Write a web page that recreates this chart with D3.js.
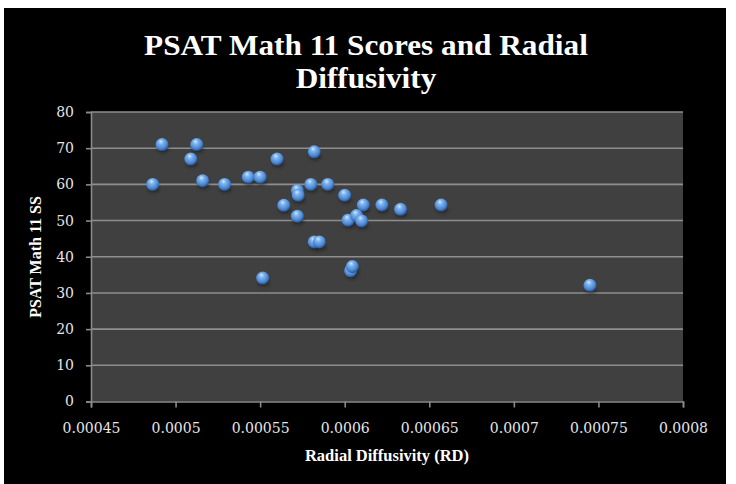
<!DOCTYPE html>
<html>
<head>
<meta charset="utf-8">
<script src="https://cdn.jsdelivr.net/npm/d3@7"></script>
<style>
  html, body { margin: 0; padding: 0; background: #fff; }
  svg { display: block; }
</style>
</head>
<body>
<svg width="736" height="484"></svg>
<script>
  // 데이터: Radial Diffusivity (x) 와 PSAT Math 11 점수 (y)
  const rdValues = [
    0.0004865, 0.000492, 0.0005125, 0.000509, 0.000516, 0.000529,
    0.000543, 0.00055, 0.00056, 0.000582, 0.000572, 0.0005725,
    0.00058, 0.00059, 0.000564, 0.000572, 0.0005515, 0.000582,
    0.000585, 0.0006, 0.000611, 0.000602, 0.000607, 0.00061,
    0.0006035, 0.0006045, 0.000622, 0.000633, 0.000657, 0.000745
  ];
  const psatScores = [
    60, 71, 71, 67, 61, 60,
    62, 62, 67, 69, 58.3, 57,
    60, 60, 54.2, 51.2, 34.1, 44.1,
    44.1, 57, 54.3, 50.1, 51.4, 49.9,
    36.1, 37.3, 54.3, 53.1, 54.3, 32.1
  ];
  const xTicks = [0.00045, 0.0005, 0.00055, 0.0006, 0.00065, 0.0007, 0.00075, 0.0008];
  const yTicks = [0, 10, 20, 30, 40, 50, 60, 70, 80];

  const svg = d3.select("svg");

  // 검은 배경 (왼쪽/위쪽/오른쪽에 흰 여백)
  svg.append("rect")
    .attr("x", 4).attr("y", 8)
    .attr("width", 722).attr("height", 476)
    .attr("fill", "#000");

  const plot = { left: 91, right: 683, top: 112, bottom: 401.5 };

  const x = d3.scaleLinear()
    .domain([0.00045, 0.0008])
    .range([plot.left, plot.right]);

  const y = d3.scaleLinear()
    .domain([0, 80])
    .range([plot.bottom, plot.top]);

  // 구슬 모양 마커용 그라디언트
  const defs = svg.append("defs");
  const grad = defs.append("radialGradient")
    .attr("id", "ball")
    .attr("cx", "45%").attr("cy", "40%").attr("r", "60%")
    .attr("fx", "40%").attr("fy", "25%");
  grad.append("stop").attr("offset", "0%").attr("stop-color", "#d6ecff");
  grad.append("stop").attr("offset", "30%").attr("stop-color", "#7fb4ee");
  grad.append("stop").attr("offset", "75%").attr("stop-color", "#4a86d2");
  grad.append("stop").attr("offset", "100%").attr("stop-color", "#244f8c");

  const shadow = defs.append("filter").attr("id", "blur")
    .attr("x", "-50%").attr("y", "-50%").attr("width", "200%").attr("height", "200%");
  shadow.append("feGaussianBlur").attr("stdDeviation", 1.5);

  // 플롯 영역
  svg.append("rect")
    .attr("x", plot.left).attr("y", plot.top)
    .attr("width", plot.right - plot.left)
    .attr("height", plot.bottom - plot.top)
    .attr("fill", "#404040");

  // 가로 눈금선
  svg.append("g")
    .selectAll("line")
    .data(yTicks.filter(d => d > 0))
    .join("line")
    .attr("x1", plot.left).attr("x2", plot.right)
    .attr("y1", d => y(d)).attr("y2", d => y(d))
    .attr("stroke", "#8e8e8e")
    .attr("stroke-width", 1.6);

  // 축
  const axisColor = "#8a8a8a";
  const yAxis = svg.append("g")
    .attr("transform", `translate(${plot.left},0)`)
    .call(d3.axisLeft(y).tickValues(yTicks).tickSize(5).tickPadding(12).tickFormat(d3.format("d")));
  const xAxis = svg.append("g")
    .attr("transform", `translate(0,${plot.bottom})`)
    .call(d3.axisBottom(x).tickValues(xTicks).tickSize(6).tickPadding(16).tickFormat(d => String(+d.toPrecision(2))));

  [yAxis, xAxis].forEach(a => {
    a.select(".domain").attr("stroke", axisColor).attr("stroke-width", 1.6);
    a.selectAll(".tick line").attr("stroke", axisColor).attr("stroke-width", 1.6);
    a.selectAll(".tick text")
      .attr("fill", "#e6e6e6")
      .style("font-family", "'DejaVu Serif', serif")
      .style("font-size", "14px");
  });

  // 점 (그림자 + 구슬)
  const pts = d3.zip(rdValues, psatScores);
  svg.append("g")
    .selectAll("ellipse")
    .data(pts)
    .join("ellipse")
    .attr("cx", d => x(d[0]) + 1)
    .attr("cy", d => y(d[1]) + 5)
    .attr("rx", 6).attr("ry", 3.5)
    .attr("fill", "#1a1a1a")
    .attr("opacity", 0.6)
    .attr("filter", "url(#blur)");
  svg.append("g")
    .selectAll("circle")
    .data(pts)
    .join("circle")
    .attr("cx", d => x(d[0]))
    .attr("cy", d => y(d[1]))
    .attr("r", 6.5)
    .attr("fill", "url(#ball)");

  // 제목
  const title = svg.append("g")
    .attr("fill", "#fff")
    .style("font-family", "'Liberation Serif', serif")
    .style("font-weight", "bold")
    .style("font-size", "29px")
    .attr("text-anchor", "middle");
  const t1 = title.append("text").attr("x", 366).attr("y", 55).text("PSAT Math 11 Scores and Radial");
  title.append("text").attr("x", 366).attr("y", 88).text("Diffusivity");
  const k = 444 / t1.node().getComputedTextLength();
  title.attr("transform", `translate(366,0) scale(${k},1) translate(-366,0)`);

  // 축 제목
  svg.append("text")
    .attr("x", (plot.left + plot.right) / 2).attr("y", 461)
    .attr("text-anchor", "middle")
    .attr("fill", "#fff")
    .style("font-family", "'Liberation Serif', serif")
    .style("font-weight", "bold")
    .style("font-size", "16.5px")
    .text("Radial Diffusivity (RD)");

  svg.append("text")
    .attr("transform", "translate(41,257) rotate(-90)")
    .attr("text-anchor", "middle")
    .attr("fill", "#fff")
    .style("font-family", "'Liberation Serif', serif")
    .style("font-weight", "bold")
    .style("font-size", "16px")
    .text("PSAT Math 11 SS");
</script>
</body>
</html>
